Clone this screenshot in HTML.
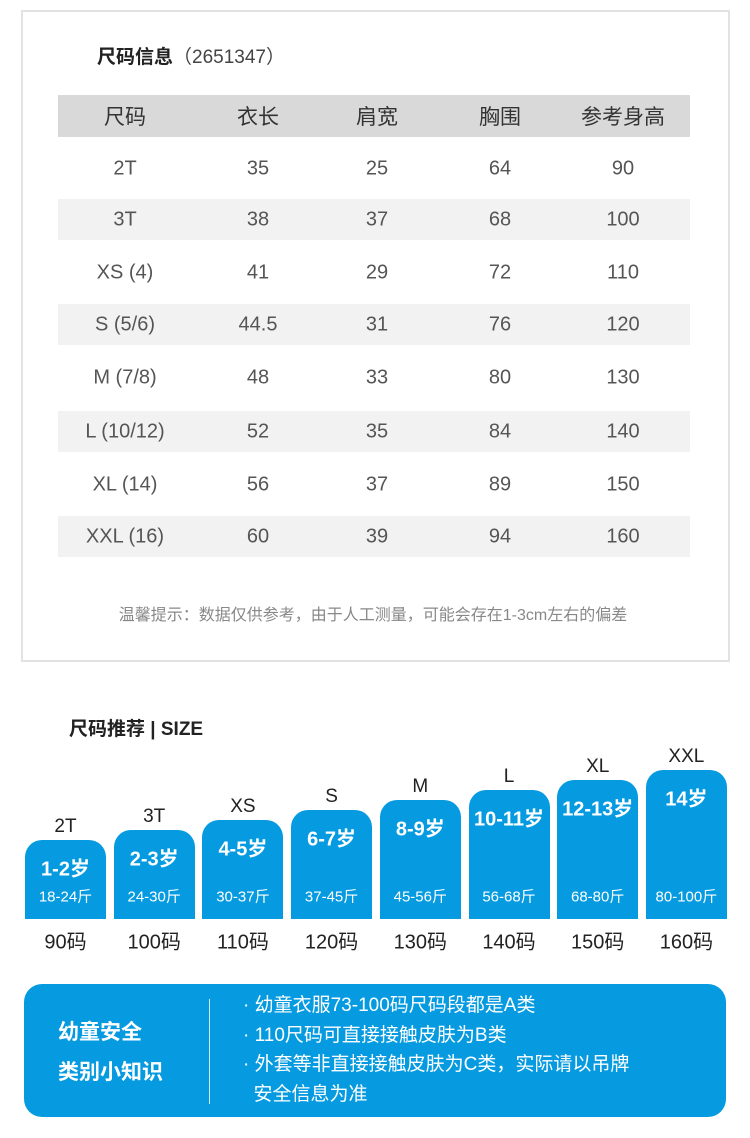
<!DOCTYPE html>
<html><head><meta charset="utf-8"><style>
*{margin:0;padding:0;box-sizing:border-box}
body{width:750px;height:1138px;background:#fff;position:relative;overflow:hidden;font-family:"Liberation Sans","Noto Sans CJK SC",sans-serif;color:#444}
.a{position:absolute;white-space:nowrap}
.c{position:absolute;transform:translate(-50%,-50%);white-space:nowrap}
.card{position:absolute;width:81px;background:#069be0;border-radius:17px 17px 0 0;color:#fff;text-align:center}
</style></head><body>
<div class="a" style="left:21px;top:10px;width:709px;height:652px;border:2px solid #e2e2e2"></div>
<div class="a" style="left:97px;top:42px;font-size:19px;color:#222"><b>尺码信息</b><span style="color:#444">（2651347）</span></div>
<div class="a" style="left:58px;top:95px;width:632px;height:42px;background:#d9d9d9"></div>
<div class="a" style="left:58px;top:199px;width:632px;height:41px;background:#f2f2f2"></div>
<div class="a" style="left:58px;top:304px;width:632px;height:41px;background:#f2f2f2"></div>
<div class="a" style="left:58px;top:411px;width:632px;height:41px;background:#f2f2f2"></div>
<div class="a" style="left:58px;top:516px;width:632px;height:41px;background:#f2f2f2"></div>
<div id="t"></div>
<div class="c" style="left:373px;top:613px;font-size:16px;color:#888">温馨提示：数据仅供参考，由于人工测量，可能会存在1-3cm左右的偏差</div>
<div class="a" style="left:69px;top:714px;font-size:19px;font-weight:bold;color:#222">尺码推荐 | SIZE</div>
<div id="k"></div>
<div class="a" style="left:24px;top:984px;width:702px;height:133px;background:#069be0;border-radius:18px"></div>
<div class="a" style="left:209px;top:999px;width:1px;height:105px;background:#cfeaf8"></div>
<div class="a" style="left:58px;top:1016px;font-size:21px;font-weight:bold;color:#fff">幼童安全</div>
<div class="a" style="left:58px;top:1056px;font-size:21px;font-weight:bold;color:#fff">类别小知识</div>
<div class="a" style="left:243px;top:991px;font-size:19px;color:#fff;line-height:29.5px">· 幼童衣服73-100码尺码段都是A类<br>· 110尺码可直接接触皮肤为B类<br>· 外套等非直接接触皮肤为C类，实际请以吊牌<br>&nbsp;&nbsp;安全信息为准</div>
<script>
(function(){
var cols=[125,258,377,500,623];
var rows=[["尺码","衣长","肩宽","胸围","参考身高"],["2T","35","25","64","90"],["3T","38","37","68","100"],["XS (4)","41","29","72","110"],["S (5/6)","44.5","31","76","120"],["M (7/8)","48","33","80","130"],["L (10/12)","52","35","84","140"],["XL (14)","56","37","89","150"],["XXL (16)","60","39","94","160"]];
var ys=[116,169,220,273,325,378,432,485,537],h="";
rows.forEach(function(r,i){r.forEach(function(v,j){h+='<div class="c" style="left:'+cols[j]+'px;top:'+ys[i]+'px;font-size:'+(i?20:21)+'px;color:'+(i?'#555':'#333')+'">'+v+'</div>'})});
document.getElementById('t').innerHTML=h;
var L=["2T","3T","XS","S","M","L","XL","XXL"],A=["1-2岁","2-3岁","4-5岁","6-7岁","8-9岁","10-11岁","12-13岁","14岁"],W=["18-24斤","24-30斤","30-37斤","37-45斤","45-56斤","56-68斤","68-80斤","80-100斤"],M=["90码","100码","110码","120码","130码","140码","150码","160码"];
h="";
for(var i=0;i<8;i++){var x=25+i*88.7,tp=840-i*10,cx=x+40.5;
h+='<div class="card" style="left:'+x+'px;top:'+tp+'px;height:'+(919-tp)+'px"></div>';
h+='<div class="c" style="left:'+cx+'px;top:'+(tp-13)+'px;font-size:19px;color:#222">'+L[i]+'</div>';
h+='<div class="c" style="left:'+cx+'px;top:'+(tp+27)+'px;font-size:20px;font-weight:bold;color:#fff">'+A[i]+'</div>';
h+='<div class="c" style="left:'+cx+'px;top:896px;font-size:15px;color:#fff">'+W[i]+'</div>';
h+='<div class="c" style="left:'+cx+'px;top:940px;font-size:20px;color:#222">'+M[i]+'</div>';}
document.getElementById('k').innerHTML=h;
})();
</script>
</body></html>
